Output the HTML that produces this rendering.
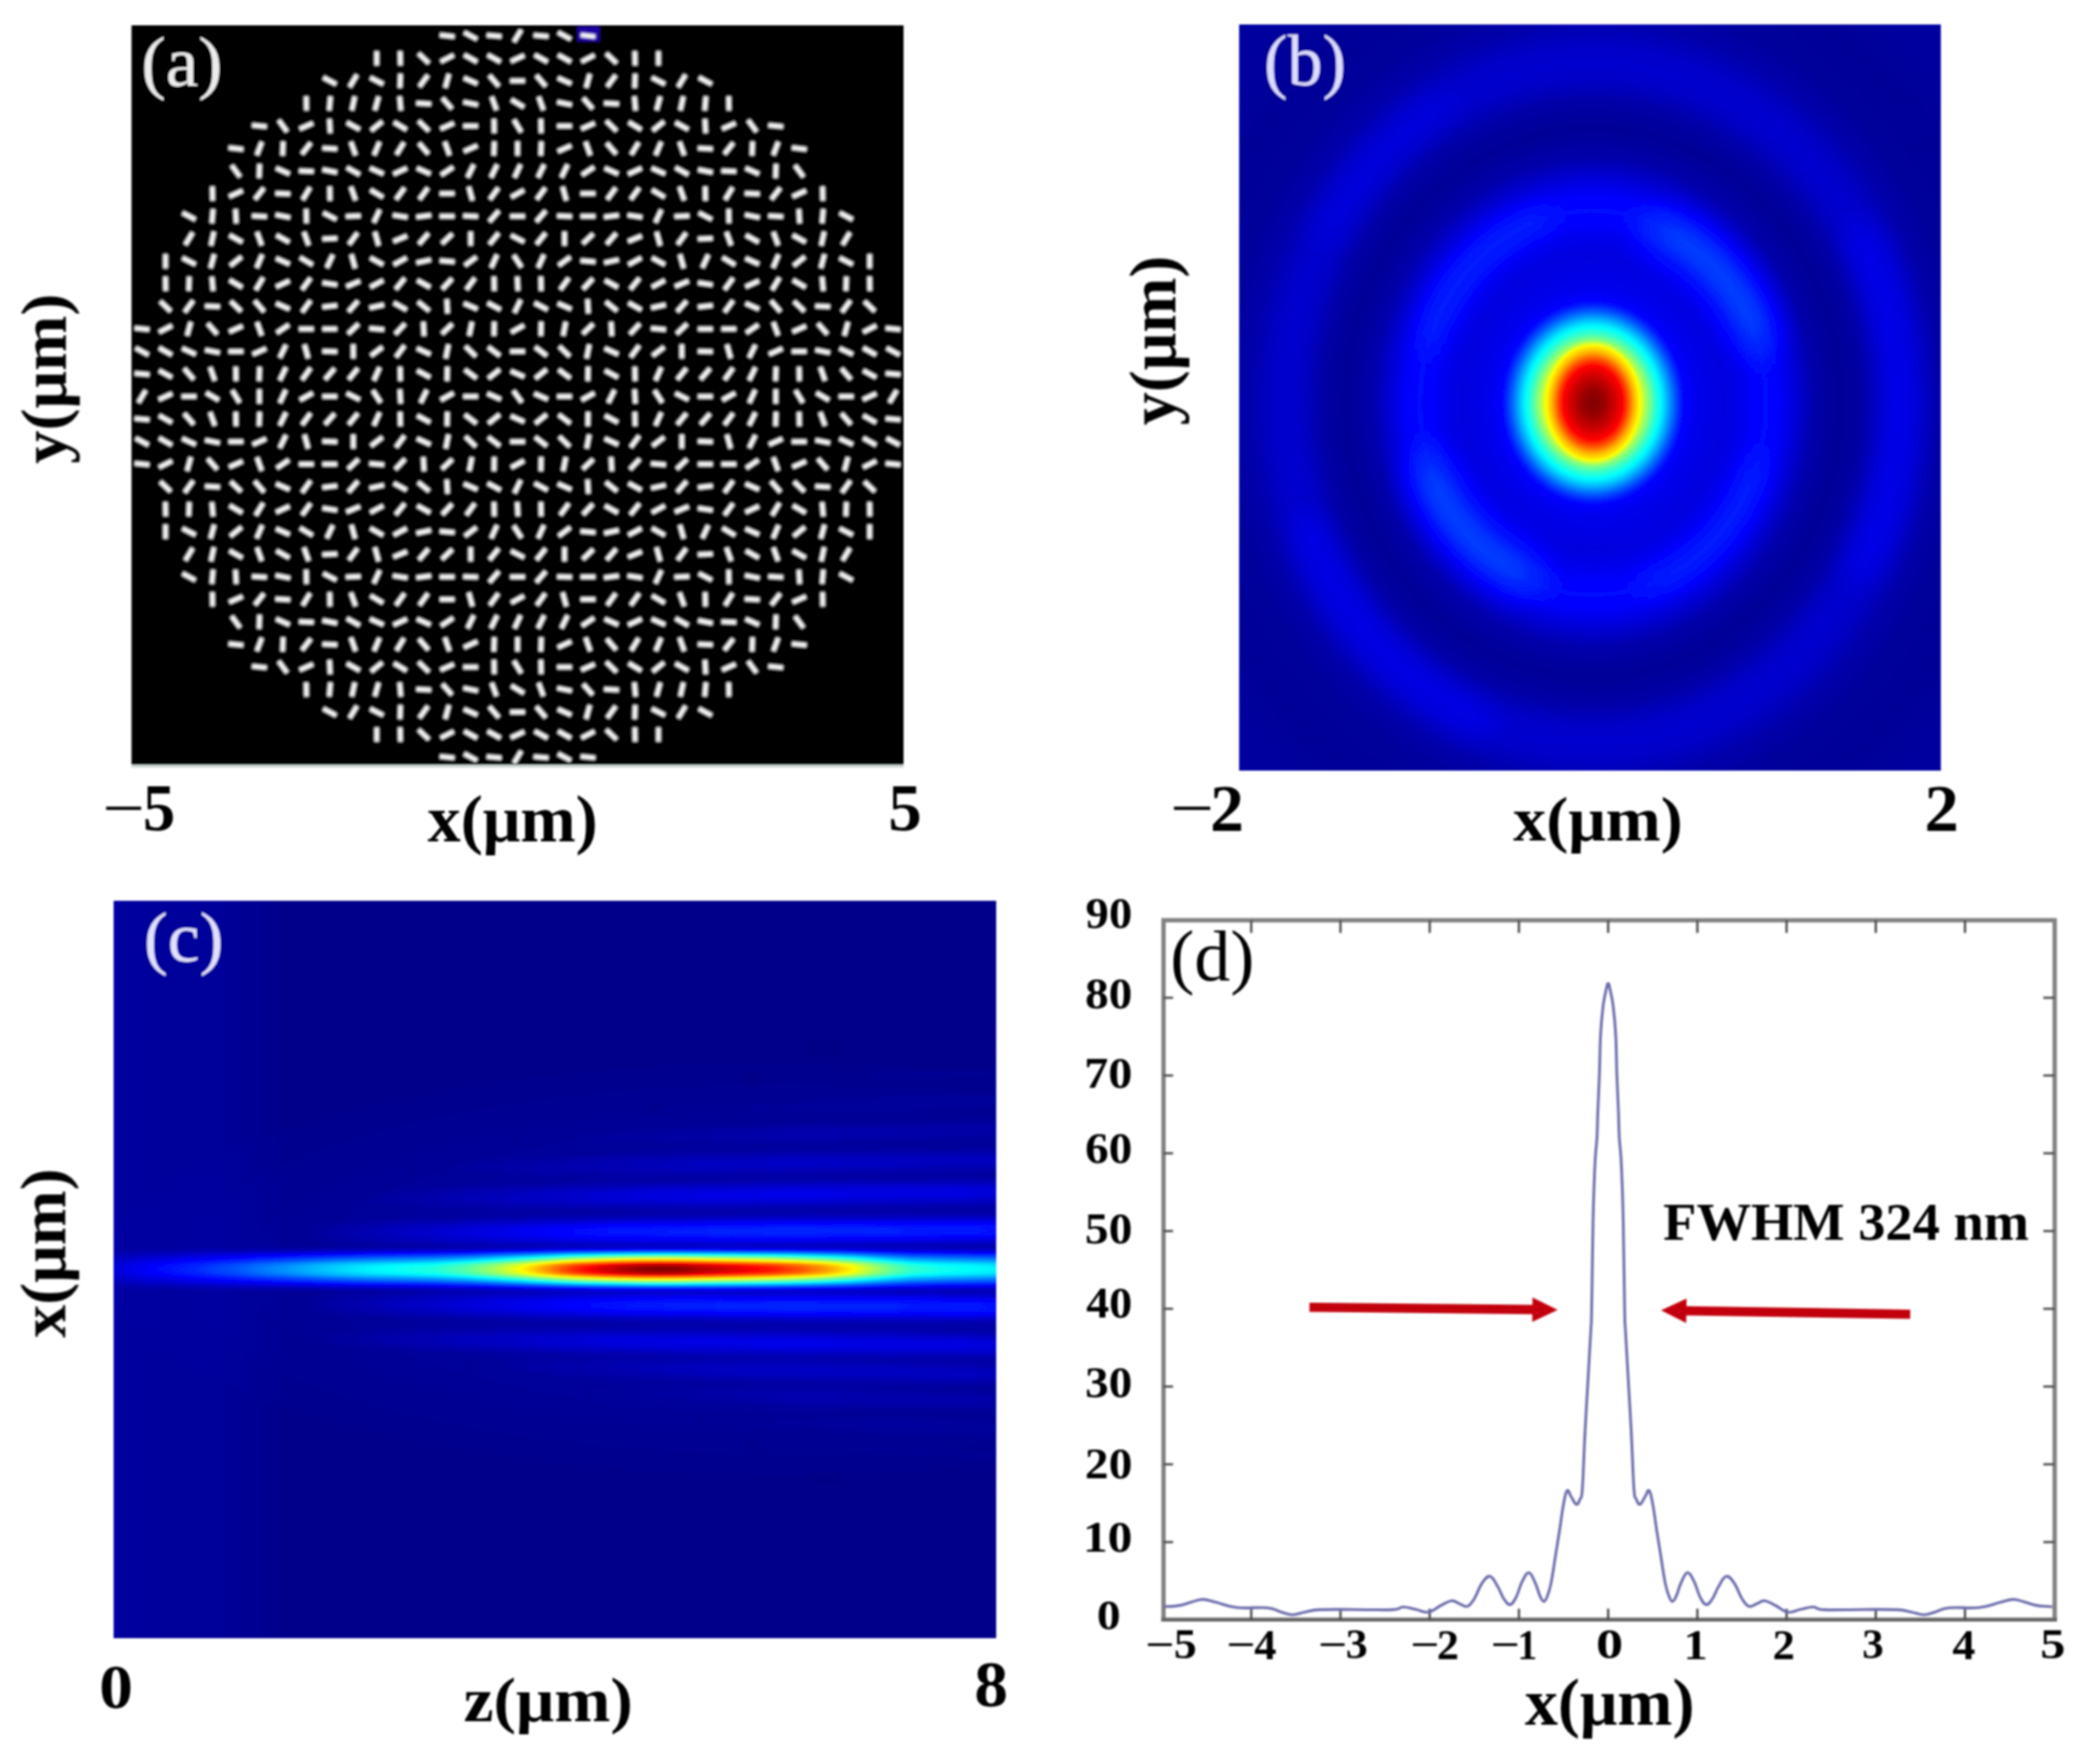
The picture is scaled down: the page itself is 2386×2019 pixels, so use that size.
<!DOCTYPE html>
<html lang="en"><head><meta charset="utf-8"><title>Figure</title>
<style>
html,body{margin:0;padding:0;background:#fff}
body{width:2386px;height:2019px;overflow:hidden}
svg{display:block}
text{font-family:"Liberation Serif","DejaVu Serif",serif}
</style></head><body>
<svg width="2386" height="2019" viewBox="0 0 2386 2019">
<rect width="2386" height="2019" fill="#fff"/>
<defs>
<clipPath id="ca"><rect x="150.5" y="29" width="883.5" height="846.0"/></clipPath>
<filter id="bla" x="0" y="0" width="100%" height="100%"><feGaussianBlur stdDeviation="1.1"/></filter>
<filter id="jet" x="0" y="0" width="100%" height="100%" color-interpolation-filters="sRGB"><feComponentTransfer><feFuncR type="table" tableValues="0 0 0 0 0.5 1 1 1 0.5"/><feFuncG type="table" tableValues="0 0 0.5 1 1 1 0.5 0 0"/><feFuncB type="table" tableValues="0.5 1 1 1 0.5 0 0 0 0"/></feComponentTransfer></filter>
<radialGradient id="gb" gradientUnits="userSpaceOnUse" cx="1823.0" cy="461.0" r="600" gradientTransform="translate(1823.0 461.0) scale(1 1.11) translate(-1823.0 -461.0)"><stop offset="0.0000" stop-color="#4c4c4c"/><stop offset="0.1333" stop-color="#4c4c4c"/><stop offset="0.1467" stop-color="#404040"/><stop offset="0.1600" stop-color="#2e2e2e"/><stop offset="0.1733" stop-color="#212121"/><stop offset="0.2000" stop-color="#1b1b1b"/><stop offset="0.2500" stop-color="#181818"/><stop offset="0.2833" stop-color="#1b1b1b"/><stop offset="0.3067" stop-color="#202020"/><stop offset="0.3300" stop-color="#222222"/><stop offset="0.3533" stop-color="#202020"/><stop offset="0.3800" stop-color="#181818"/><stop offset="0.4217" stop-color="#0b0b0b"/><stop offset="0.4717" stop-color="#060606"/><stop offset="0.5167" stop-color="#0a0a0a"/><stop offset="0.5550" stop-color="#121212"/><stop offset="0.5833" stop-color="#141414"/><stop offset="0.6133" stop-color="#121212"/><stop offset="0.6550" stop-color="#0b0b0b"/><stop offset="0.7083" stop-color="#070707"/><stop offset="0.7833" stop-color="#060606"/><stop offset="0.8667" stop-color="#080808"/><stop offset="1.0000" stop-color="#080808"/></radialGradient>
<radialGradient id="gb2" gradientUnits="userSpaceOnUse" cx="1823.0" cy="461.0" r="108" gradientTransform="translate(1823.0 461.0) scale(1 1.13) translate(-1823.0 -461.0)"><stop offset="0.0000" stop-color="#9e9e9e"/><stop offset="0.4630" stop-color="#9e9e9e"/><stop offset="0.5185" stop-color="#969696"/><stop offset="0.5556" stop-color="#8a8a8a"/><stop offset="0.5926" stop-color="#808080"/><stop offset="0.6481" stop-color="#6e6e6e"/><stop offset="0.7130" stop-color="#606060"/><stop offset="0.7778" stop-color="#4f4f4f"/><stop offset="0.8519" stop-color="#3d3d3d" stop-opacity="0.60"/><stop offset="0.9259" stop-color="#2e2e2e" stop-opacity="0.25"/><stop offset="1.0000" stop-color="#212121" stop-opacity="0.00"/></radialGradient>
<radialGradient id="gb3" gradientUnits="userSpaceOnUse" cx="1823.0" cy="461.0" r="58" gradientTransform="translate(1823.0 461.0) scale(1 1.24) translate(-1823.0 -461.0)"><stop offset="0.0000" stop-color="#ffffff"/><stop offset="0.2069" stop-color="#f9f9f9"/><stop offset="0.4138" stop-color="#ececec"/><stop offset="0.5862" stop-color="#dfdfdf"/><stop offset="0.6897" stop-color="#cccccc"/><stop offset="0.8103" stop-color="#b2b2b2"/><stop offset="0.8966" stop-color="#a4a4a4"/><stop offset="0.9483" stop-color="#9e9e9e" stop-opacity="0.50"/><stop offset="1.0000" stop-color="#999999" stop-opacity="0.00"/></radialGradient>
<clipPath id="cb"><rect x="1418.3" y="28.8" width="802.5" height="853.0"/></clipPath>
<filter id="blb" x="-50%" y="-50%" width="200%" height="200%"><feGaussianBlur stdDeviation="20"/></filter>
<clipPath id="cc"><rect x="130.8" y="1031" width="1008.4" height="843.3"/></clipPath>
<radialGradient id="cglow" gradientUnits="userSpaceOnUse" cx="0" cy="0" r="1" gradientTransform="translate(900 1452.7) scale(820 250)"><stop offset="0" stop-color="#fff" stop-opacity="0.045"/><stop offset="0.35" stop-color="#fff" stop-opacity="0.03"/><stop offset="0.7" stop-color="#fff" stop-opacity="0.012"/><stop offset="1" stop-color="#fff" stop-opacity="0"/></radialGradient>
<linearGradient id="cleft" gradientUnits="userSpaceOnUse" x1="131" y1="0" x2="330" y2="0"><stop offset="0.0000" stop-color="#fff" stop-opacity="0.030"/><stop offset="0.0452" stop-color="#fff" stop-opacity="0.020"/><stop offset="0.6482" stop-color="#fff" stop-opacity="0.014"/><stop offset="1.0000" stop-color="#fff" stop-opacity="0.000"/></linearGradient>
<filter id="vbl" x="-5%" y="-5%" width="110%" height="110%"><feGaussianBlur stdDeviation="3 5.5"/></filter>
<linearGradient id="lb0" gradientUnits="userSpaceOnUse" x1="330" y1="0" x2="1139" y2="0"><stop offset="0.0000" stop-color="#fff" stop-opacity="0.000"/><stop offset="0.2287" stop-color="#fff" stop-opacity="0.056"/><stop offset="0.4574" stop-color="#fff" stop-opacity="0.113"/><stop offset="0.7046" stop-color="#fff" stop-opacity="0.125"/><stop offset="1.0000" stop-color="#fff" stop-opacity="0.115"/></linearGradient>
<linearGradient id="lb1" gradientUnits="userSpaceOnUse" x1="380" y1="0" x2="1139" y2="0"><stop offset="0.0000" stop-color="#fff" stop-opacity="0.000"/><stop offset="0.2503" stop-color="#fff" stop-opacity="0.032"/><stop offset="0.5007" stop-color="#fff" stop-opacity="0.063"/><stop offset="0.6851" stop-color="#fff" stop-opacity="0.070"/><stop offset="1.0000" stop-color="#fff" stop-opacity="0.064"/></linearGradient>
<linearGradient id="lb2" gradientUnits="userSpaceOnUse" x1="450" y1="0" x2="1139" y2="0"><stop offset="0.0000" stop-color="#fff" stop-opacity="0.000"/><stop offset="0.2540" stop-color="#fff" stop-opacity="0.019"/><stop offset="0.5080" stop-color="#fff" stop-opacity="0.038"/><stop offset="0.6531" stop-color="#fff" stop-opacity="0.042"/><stop offset="1.0000" stop-color="#fff" stop-opacity="0.039"/></linearGradient>
<linearGradient id="lb3" gradientUnits="userSpaceOnUse" x1="560" y1="0" x2="1139" y2="0"><stop offset="0.0000" stop-color="#fff" stop-opacity="0.000"/><stop offset="0.2936" stop-color="#fff" stop-opacity="0.012"/><stop offset="0.5872" stop-color="#fff" stop-opacity="0.023"/><stop offset="0.5872" stop-color="#fff" stop-opacity="0.026"/><stop offset="1.0000" stop-color="#fff" stop-opacity="0.024"/></linearGradient>
<linearGradient id="lb4" gradientUnits="userSpaceOnUse" x1="700" y1="0" x2="1139" y2="0"><stop offset="0.0000" stop-color="#fff" stop-opacity="0.000"/><stop offset="0.3417" stop-color="#fff" stop-opacity="0.007"/><stop offset="0.6834" stop-color="#fff" stop-opacity="0.014"/><stop offset="0.4556" stop-color="#fff" stop-opacity="0.016"/><stop offset="1.0000" stop-color="#fff" stop-opacity="0.015"/></linearGradient>
<linearGradient id="lb5" gradientUnits="userSpaceOnUse" x1="800" y1="0" x2="1139" y2="0"><stop offset="0.0000" stop-color="#fff" stop-opacity="0.000"/><stop offset="0.3687" stop-color="#fff" stop-opacity="0.005"/><stop offset="0.7375" stop-color="#fff" stop-opacity="0.009"/><stop offset="0.2950" stop-color="#fff" stop-opacity="0.010"/><stop offset="1.0000" stop-color="#fff" stop-opacity="0.009"/></linearGradient>
<linearGradient id="lb6" gradientUnits="userSpaceOnUse" x1="850" y1="0" x2="1139" y2="0"><stop offset="0.0000" stop-color="#fff" stop-opacity="0.000"/><stop offset="0.3979" stop-color="#fff" stop-opacity="0.003"/><stop offset="0.7958" stop-color="#fff" stop-opacity="0.006"/><stop offset="0.1730" stop-color="#fff" stop-opacity="0.007"/><stop offset="1.0000" stop-color="#fff" stop-opacity="0.006"/></linearGradient>
<linearGradient id="lb7" gradientUnits="userSpaceOnUse" x1="330" y1="0" x2="1139" y2="0"><stop offset="0.0000" stop-color="#fff" stop-opacity="0.000"/><stop offset="0.2410" stop-color="#fff" stop-opacity="0.056"/><stop offset="0.4821" stop-color="#fff" stop-opacity="0.113"/><stop offset="0.7046" stop-color="#fff" stop-opacity="0.125"/><stop offset="1.0000" stop-color="#fff" stop-opacity="0.115"/></linearGradient>
<linearGradient id="lb8" gradientUnits="userSpaceOnUse" x1="330" y1="0" x2="1139" y2="0"><stop offset="0.0000" stop-color="#fff" stop-opacity="0.000"/><stop offset="0.2287" stop-color="#fff" stop-opacity="0.032"/><stop offset="0.4574" stop-color="#fff" stop-opacity="0.063"/><stop offset="0.7046" stop-color="#fff" stop-opacity="0.070"/><stop offset="1.0000" stop-color="#fff" stop-opacity="0.064"/></linearGradient>
<linearGradient id="lb9" gradientUnits="userSpaceOnUse" x1="520" y1="0" x2="1139" y2="0"><stop offset="0.0000" stop-color="#fff" stop-opacity="0.000"/><stop offset="0.2423" stop-color="#fff" stop-opacity="0.018"/><stop offset="0.4847" stop-color="#fff" stop-opacity="0.036"/><stop offset="0.6139" stop-color="#fff" stop-opacity="0.040"/><stop offset="1.0000" stop-color="#fff" stop-opacity="0.037"/></linearGradient>
<linearGradient id="lb10" gradientUnits="userSpaceOnUse" x1="650" y1="0" x2="1139" y2="0"><stop offset="0.0000" stop-color="#fff" stop-opacity="0.000"/><stop offset="0.2556" stop-color="#fff" stop-opacity="0.012"/><stop offset="0.5112" stop-color="#fff" stop-opacity="0.023"/><stop offset="0.5112" stop-color="#fff" stop-opacity="0.026"/><stop offset="1.0000" stop-color="#fff" stop-opacity="0.024"/></linearGradient>
<linearGradient id="lb11" gradientUnits="userSpaceOnUse" x1="760" y1="0" x2="1139" y2="0"><stop offset="0.0000" stop-color="#fff" stop-opacity="0.000"/><stop offset="0.3166" stop-color="#fff" stop-opacity="0.007"/><stop offset="0.6332" stop-color="#fff" stop-opacity="0.014"/><stop offset="0.3694" stop-color="#fff" stop-opacity="0.016"/><stop offset="1.0000" stop-color="#fff" stop-opacity="0.015"/></linearGradient>
<linearGradient id="lb12" gradientUnits="userSpaceOnUse" x1="800" y1="0" x2="1139" y2="0"><stop offset="0.0000" stop-color="#fff" stop-opacity="0.000"/><stop offset="0.3687" stop-color="#fff" stop-opacity="0.005"/><stop offset="0.7375" stop-color="#fff" stop-opacity="0.009"/><stop offset="0.2950" stop-color="#fff" stop-opacity="0.010"/><stop offset="1.0000" stop-color="#fff" stop-opacity="0.009"/></linearGradient>
<linearGradient id="lb13" gradientUnits="userSpaceOnUse" x1="850" y1="0" x2="1139" y2="0"><stop offset="0.0000" stop-color="#fff" stop-opacity="0.000"/><stop offset="0.3979" stop-color="#fff" stop-opacity="0.003"/><stop offset="0.7958" stop-color="#fff" stop-opacity="0.006"/><stop offset="0.1730" stop-color="#fff" stop-opacity="0.007"/><stop offset="1.0000" stop-color="#fff" stop-opacity="0.006"/></linearGradient>
<linearGradient id="cv0" gradientUnits="userSpaceOnUse" x1="131" y1="0" x2="1139" y2="0"><stop offset="0.0000" stop-color="#fff" stop-opacity="0.050"/><stop offset="0.0188" stop-color="#fff" stop-opacity="0.075"/><stop offset="0.0506" stop-color="#fff" stop-opacity="0.105"/><stop offset="0.0933" stop-color="#fff" stop-opacity="0.140"/><stop offset="0.1369" stop-color="#fff" stop-opacity="0.185"/><stop offset="0.1796" stop-color="#fff" stop-opacity="0.240"/><stop offset="0.2222" stop-color="#fff" stop-opacity="0.290"/><stop offset="0.2798" stop-color="#fff" stop-opacity="0.345"/><stop offset="0.3264" stop-color="#fff" stop-opacity="0.370"/><stop offset="0.3651" stop-color="#fff" stop-opacity="0.395"/><stop offset="0.3958" stop-color="#fff" stop-opacity="0.440"/><stop offset="0.4226" stop-color="#fff" stop-opacity="0.500"/><stop offset="0.4454" stop-color="#fff" stop-opacity="0.565"/><stop offset="0.4653" stop-color="#fff" stop-opacity="0.630"/><stop offset="0.4871" stop-color="#fff" stop-opacity="0.710"/><stop offset="0.5079" stop-color="#fff" stop-opacity="0.790"/><stop offset="0.5258" stop-color="#fff" stop-opacity="0.850"/><stop offset="0.5546" stop-color="#fff" stop-opacity="0.920"/><stop offset="0.5764" stop-color="#fff" stop-opacity="0.960"/><stop offset="0.5992" stop-color="#fff" stop-opacity="0.990"/><stop offset="0.6190" stop-color="#fff" stop-opacity="1.000"/><stop offset="0.6419" stop-color="#fff" stop-opacity="0.990"/><stop offset="0.6627" stop-color="#fff" stop-opacity="0.960"/><stop offset="0.7034" stop-color="#fff" stop-opacity="0.910"/><stop offset="0.7480" stop-color="#fff" stop-opacity="0.850"/><stop offset="0.7778" stop-color="#fff" stop-opacity="0.790"/><stop offset="0.8056" stop-color="#fff" stop-opacity="0.720"/><stop offset="0.8343" stop-color="#fff" stop-opacity="0.630"/><stop offset="0.8621" stop-color="#fff" stop-opacity="0.520"/><stop offset="0.8839" stop-color="#fff" stop-opacity="0.450"/><stop offset="0.9048" stop-color="#fff" stop-opacity="0.400"/><stop offset="0.9415" stop-color="#fff" stop-opacity="0.365"/><stop offset="1.0000" stop-color="#fff" stop-opacity="0.340"/></linearGradient>
<linearGradient id="cgy" gradientUnits="userSpaceOnUse" x1="0" y1="1424.7" x2="0" y2="1480.7"><stop offset="0.0000" stop-color="#fff" stop-opacity="0.000"/><stop offset="0.0536" stop-color="#fff" stop-opacity="0.030"/><stop offset="0.1071" stop-color="#fff" stop-opacity="0.100"/><stop offset="0.1607" stop-color="#fff" stop-opacity="0.235"/><stop offset="0.2054" stop-color="#fff" stop-opacity="0.365"/><stop offset="0.2411" stop-color="#fff" stop-opacity="0.470"/><stop offset="0.2857" stop-color="#fff" stop-opacity="0.600"/><stop offset="0.3214" stop-color="#fff" stop-opacity="0.700"/><stop offset="0.3571" stop-color="#fff" stop-opacity="0.800"/><stop offset="0.3839" stop-color="#fff" stop-opacity="0.880"/><stop offset="0.4107" stop-color="#fff" stop-opacity="0.940"/><stop offset="0.4464" stop-color="#fff" stop-opacity="0.980"/><stop offset="0.5000" stop-color="#fff" stop-opacity="1.000"/><stop offset="0.5536" stop-color="#fff" stop-opacity="0.980"/><stop offset="0.5893" stop-color="#fff" stop-opacity="0.940"/><stop offset="0.6161" stop-color="#fff" stop-opacity="0.880"/><stop offset="0.6429" stop-color="#fff" stop-opacity="0.800"/><stop offset="0.6786" stop-color="#fff" stop-opacity="0.700"/><stop offset="0.7143" stop-color="#fff" stop-opacity="0.600"/><stop offset="0.7589" stop-color="#fff" stop-opacity="0.470"/><stop offset="0.7946" stop-color="#fff" stop-opacity="0.365"/><stop offset="0.8393" stop-color="#fff" stop-opacity="0.235"/><stop offset="0.8929" stop-color="#fff" stop-opacity="0.100"/><stop offset="0.9464" stop-color="#fff" stop-opacity="0.030"/><stop offset="1.0000" stop-color="#fff" stop-opacity="0.000"/></linearGradient>
<mask id="cmask" maskUnits="userSpaceOnUse" x="120.80000000000001" y="1424.7" width="1028.4" height="56"><rect x="120.80000000000001" y="1424.7" width="1028.4" height="56" fill="url(#cgy)"/></mask>
<filter id="soft" filterUnits="userSpaceOnUse" x="0" y="0" width="2386" height="2019"><feGaussianBlur stdDeviation="0.9"/></filter>
</defs>
<g filter="url(#soft)">
<rect x="150.5" y="874" width="883.5" height="4.5" fill="#93a49e" opacity="0.5"/><rect x="150.5" y="29" width="883.5" height="846.0" fill="#000"/>
<g clip-path="url(#ca)"><rect x="660" y="30" width="27" height="18" fill="#2200c8" opacity="0.8" filter="url(#bla)"/><path filter="url(#bla)" d="M503.0 40.1l17.4 1.8M530.9 36.9l15.3 8.2M556.7 40.3l17.5 1.5M587.9 48.3l8.8 -14.6M610.4 40.3l17.5 1.5M638.3 36.9l15.3 8.2M664.2 40.1l17.4 1.8M431.1 75.2l0.0 -16.9M458.2 75.2l-0.3 -16.9M478.7 60.8l12.4 11.9M504.0 70.8l15.5 -7.9M531.0 62.6l15.2 8.4M557.8 62.6l15.2 8.4M584.3 70.4l15.9 -7.1M611.6 62.6l15.2 8.4M638.4 62.6l15.2 8.4M665.1 70.8l15.5 -7.9M693.5 60.8l12.4 11.9M726.8 75.2l-0.3 -16.9M753.5 75.2l0.0 -16.9M369.7 88.5l15.3 8.2M399.9 99.9l8.8 -14.6M423.4 88.6l15.5 7.9M457.7 101.0l0.6 -16.8M479.8 99.5l10.1 -13.8M509.4 100.7l4.5 -16.3M530.6 89.0l15.9 7.1M559.8 86.1l11.3 12.9M583.5 92.6l17.5 -0.0M613.5 86.1l11.3 12.9M638.1 89.0l15.9 7.1M670.6 100.7l4.5 -16.3M694.7 99.5l10.1 -13.8M726.3 101.0l0.6 -16.8M745.7 88.6l15.5 7.9M775.9 99.9l8.8 -14.6M799.5 88.5l15.3 8.2M350.7 126.8l-0.3 -16.9M376.7 126.8l1.5 -16.8M402.5 126.6l3.6 -16.5M428.9 126.5l4.5 -16.3M458.8 126.8l-1.5 -16.8M476.1 118.0l17.5 0.9M506.1 111.9l11.3 12.9M530.0 116.6l17.2 3.5M562.6 110.4l5.7 15.9M584.9 113.9l14.9 8.9M616.3 110.4l5.7 15.9M637.4 116.6l17.2 3.5M667.2 111.9l11.3 12.9M691.0 118.0l17.5 0.9M727.4 126.8l-1.5 -16.8M751.2 126.5l4.5 -16.3M778.5 126.6l3.6 -16.5M806.4 126.8l1.5 -16.8M834.2 126.8l-0.3 -16.9M288.1 143.3l17.4 1.8M318.7 137.3l10.1 13.8M342.6 147.8l15.9 -7.1M377.9 152.6l-0.9 -16.8M396.7 140.0l15.2 8.4M424.4 149.6l13.4 -10.8M450.6 139.7l14.9 8.9M478.7 138.2l12.4 11.9M503.8 147.8l15.9 -7.1M529.8 144.2l17.5 -0.0M565.6 152.6l-0.3 -16.9M587.9 136.9l8.8 14.6M619.3 152.6l-0.3 -16.9M637.2 144.2l17.5 -0.0M664.9 147.8l15.9 -7.1M693.5 138.2l12.4 11.9M719.2 139.7l14.9 8.9M746.7 149.6l13.4 -10.8M772.7 140.0l15.2 8.4M807.6 152.6l-0.9 -16.8M826.1 147.8l15.9 -7.1M855.9 137.3l10.1 13.8M879.0 143.3l17.4 1.8M261.3 169.1l17.4 1.8M293.8 177.9l6.0 -15.8M323.4 178.4l0.6 -16.8M345.3 176.7l10.6 -13.5M368.7 169.6l17.5 0.9M401.4 162.0l5.7 15.9M427.9 177.8l6.6 -15.6M453.6 177.3l8.8 -14.6M479.2 163.5l11.3 12.9M508.9 162.0l5.7 15.9M530.6 173.6l15.9 -7.1M565.1 178.4l0.6 -16.8M592.3 178.4l0.0 -16.9M618.9 178.4l0.6 -16.8M638.1 173.6l15.9 -7.1M670.0 162.0l5.7 15.9M694.1 163.5l11.3 12.9M722.2 177.3l8.8 -14.6M750.2 177.8l6.6 -15.6M777.5 162.0l5.7 15.9M798.4 169.6l17.5 0.9M828.8 176.7l10.6 -13.5M860.6 178.4l0.6 -16.8M884.8 177.9l6.0 -15.8M905.9 169.1l17.4 1.8M264.9 188.9l10.1 13.8M296.5 204.2l0.6 -16.8M315.7 192.2l15.9 7.1M341.8 195.4l17.5 0.9M368.8 194.0l17.2 3.5M396.7 191.6l15.2 8.4M423.2 192.2l15.9 7.1M450.0 199.4l15.9 -7.1M476.9 192.2l15.9 7.1M504.5 200.6l14.4 -9.7M534.9 203.4l7.4 -15.3M561.7 203.4l7.4 -15.3M588.7 203.5l7.1 -15.4M615.5 203.4l7.4 -15.3M642.3 203.4l7.4 -15.3M665.7 200.6l14.4 -9.7M691.8 192.2l15.9 7.1M718.6 199.4l15.9 -7.1M745.5 192.2l15.9 7.1M772.7 191.6l15.2 8.4M798.6 194.0l17.2 3.5M825.3 195.4l17.5 0.9M852.9 192.2l15.9 7.1M887.5 204.2l0.6 -16.8M909.6 188.9l10.1 13.8M243.3 230.0l-0.3 -16.9M262.0 225.2l15.9 -7.1M291.6 228.3l10.6 -13.5M314.9 221.2l17.5 0.9M346.2 228.9l8.8 -14.6M377.6 230.0l-0.3 -16.9M401.4 213.6l5.7 15.9M423.7 217.1l14.9 8.9M453.0 228.5l10.1 -13.8M479.8 228.5l10.1 -13.8M502.9 221.6l17.5 -0.0M536.3 213.5l4.5 16.3M560.4 228.5l10.1 -13.8M584.7 225.8l15.2 -8.4M614.1 228.5l10.1 -13.8M643.7 213.5l4.5 16.3M664.1 221.6l17.5 -0.0M694.7 228.5l10.1 -13.8M721.6 228.5l10.1 -13.8M746.0 217.1l14.9 8.9M777.5 213.6l5.7 15.9M807.3 230.0l-0.3 -16.9M829.7 228.9l8.8 -14.6M852.1 221.2l17.5 0.9M882.5 228.3l10.6 -13.5M906.7 225.2l15.9 -7.1M941.6 230.0l-0.3 -16.9M208.6 243.3l15.3 8.2M242.4 255.8l1.5 -16.8M270.4 255.8l-0.9 -16.8M288.1 247.0l17.5 0.9M315.1 245.6l17.2 3.5M350.7 255.8l-0.3 -16.9M369.7 243.4l15.5 7.9M395.5 247.8l17.5 -0.9M427.6 255.1l7.1 -15.4M449.3 246.1l17.3 2.6M476.2 248.4l17.4 -2.1M502.9 247.4l17.5 -0.0M529.8 247.1l17.5 0.6M559.8 253.9l11.3 -12.9M583.5 247.4l17.5 -0.0M613.5 253.9l11.3 -12.9M637.3 247.1l17.5 0.6M664.1 247.4l17.5 -0.0M691.0 248.4l17.4 -2.1M717.9 246.1l17.3 2.6M749.9 255.1l7.1 -15.4M771.6 247.8l17.5 -0.9M799.4 243.4l15.5 7.9M834.2 255.8l-0.3 -16.9M852.3 245.6l17.2 3.5M879.0 247.0l17.5 0.9M915.1 255.8l-0.9 -16.8M940.7 255.8l1.5 -16.8M960.7 243.3l15.3 8.2M211.9 280.5l8.8 -14.6M241.3 281.4l3.6 -16.5M262.4 269.0l15.2 8.4M294.0 265.2l5.7 15.9M316.1 269.0l15.2 8.4M347.7 265.2l5.7 15.9M368.7 273.6l17.5 -0.9M399.2 280.1l10.1 -13.8M428.9 265.1l4.5 16.3M449.9 276.5l16.1 -6.6M479.2 279.7l11.3 -12.9M505.5 279.2l12.4 -11.9M538.6 281.6l0.0 -16.9M560.0 279.8l10.8 -13.3M584.6 269.2l15.5 7.9M613.8 279.8l10.8 -13.3M646.0 281.6l0.0 -16.9M666.7 279.2l12.4 -11.9M694.1 279.7l11.3 -12.9M718.5 276.5l16.1 -6.6M751.2 265.1l4.5 16.3M775.3 280.1l10.1 -13.8M798.4 273.6l17.5 -0.9M831.2 265.2l5.7 15.9M853.3 269.0l15.2 8.4M884.9 265.2l5.7 15.9M907.0 269.0l15.2 8.4M939.7 281.4l3.6 -16.5M964.0 280.5l8.8 -14.6M189.4 307.4l0.0 -16.9M208.5 295.0l15.5 7.9M240.8 307.1l4.5 -16.3M263.3 304.4l13.4 -10.8M293.6 306.8l6.6 -15.6M315.7 295.4l15.9 7.1M343.1 294.5l14.9 8.9M373.9 306.7l7.1 -15.4M402.0 290.9l4.5 16.3M423.5 294.8l15.2 8.4M450.3 303.1l15.3 -8.2M476.3 300.9l17.1 -3.8M503.0 298.3l17.5 1.5M531.7 304.2l13.8 -10.4M562.0 306.8l6.9 -15.5M587.7 291.9l9.3 14.3M615.7 306.8l6.9 -15.5M639.1 304.2l13.8 -10.4M664.1 298.3l17.5 1.5M691.2 300.9l17.1 -3.8M718.9 303.1l15.3 -8.2M745.9 294.8l15.2 8.4M778.0 290.9l4.5 16.3M803.6 306.7l7.1 -15.4M826.6 294.5l14.9 8.9M852.9 295.4l15.9 7.1M884.5 306.8l6.6 -15.6M907.9 304.4l13.4 -10.8M939.2 307.1l4.5 -16.3M960.6 295.0l15.5 7.9M995.2 307.4l0.0 -16.9M189.6 333.2l-0.3 -16.9M216.0 333.2l0.6 -16.8M243.9 333.2l-1.5 -16.8M262.5 320.3l14.9 8.9M292.5 332.1l8.8 -14.6M315.7 328.4l15.9 -7.1M345.5 331.7l10.1 -13.8M368.8 323.5l17.3 2.6M396.2 328.1l16.1 -6.6M423.5 328.9l15.3 -8.2M452.6 331.4l10.8 -13.3M477.3 320.6l15.2 8.4M505.9 331.1l11.7 -12.5M533.5 331.7l10.1 -13.8M565.6 333.2l-0.3 -16.9M592.8 333.2l-0.9 -16.8M619.3 333.2l-0.3 -16.9M641.0 331.7l10.1 -13.8M667.0 331.1l11.7 -12.5M692.1 320.6l15.2 8.4M721.2 331.4l10.8 -13.3M745.8 328.9l15.3 -8.2M772.2 328.1l16.1 -6.6M798.5 323.5l17.3 2.6M829.0 331.7l10.1 -13.8M852.9 328.4l15.9 -7.1M883.4 332.1l8.8 -14.6M907.2 320.3l14.9 8.9M942.2 333.2l-1.5 -16.8M968.0 333.2l0.6 -16.8M995.4 333.2l-0.3 -16.9M183.2 344.6l12.4 11.9M211.2 357.5l10.1 -13.8M234.4 350.2l17.5 0.9M263.8 344.6l12.4 11.9M291.2 344.1l11.3 12.9M315.7 347.0l15.9 7.1M345.5 357.5l10.1 -13.8M368.7 351.6l17.4 -2.1M398.6 357.1l11.3 -12.9M422.6 352.5l17.1 -3.8M450.4 346.4l15.2 8.4M478.1 345.2l13.4 10.8M512.2 359.0l-0.9 -16.8M530.6 347.0l15.9 7.1M557.8 346.5l15.3 8.2M588.6 358.2l7.4 -15.3M611.5 346.5l15.3 8.2M638.1 347.0l15.9 7.1M673.3 359.0l-0.9 -16.8M693.0 345.2l13.4 10.8M719.0 346.4l15.2 8.4M744.9 352.5l17.1 -3.8M774.7 357.1l11.3 -12.9M798.5 351.6l17.4 -2.1M829.0 357.5l10.1 -13.8M852.9 347.0l15.9 7.1M882.1 344.1l11.3 12.9M908.4 344.6l12.4 11.9M932.7 350.2l17.5 0.9M963.3 357.5l10.1 -13.8M989.0 344.6l12.4 11.9M153.8 375.5l17.4 1.8M181.7 380.4l15.5 -7.9M214.0 384.5l4.5 -16.3M237.5 369.9l11.3 12.9M262.0 380.0l15.9 -7.1M294.0 368.4l5.7 15.9M316.5 381.2l14.4 -9.7M341.8 376.4l17.5 -0.0M368.6 376.4l17.5 -0.0M398.1 382.4l12.4 -11.9M422.4 375.7l17.5 1.5M452.1 382.7l11.7 -12.5M485.3 384.8l-0.9 -16.8M505.5 382.4l12.4 -11.9M536.9 384.7l3.3 -16.5M565.3 384.8l0.3 -16.9M584.7 380.6l15.2 -8.4M619.0 384.8l0.3 -16.9M644.3 384.7l3.3 -16.5M666.7 382.4l12.4 -11.9M700.2 384.8l-0.9 -16.8M720.7 382.7l11.7 -12.5M744.7 375.7l17.5 1.5M774.1 382.4l12.4 -11.9M798.4 376.4l17.5 -0.0M825.3 376.4l17.5 -0.0M853.7 381.2l14.4 -9.7M884.9 368.4l5.7 15.9M906.7 380.0l15.9 -7.1M935.8 369.9l11.3 12.9M966.1 384.5l4.5 -16.3M987.5 380.4l15.5 -7.9M1013.3 375.5l17.4 1.8M154.9 398.1l15.3 8.2M181.8 398.0l15.2 8.4M208.3 398.6l15.9 7.1M234.5 400.4l17.2 3.5M261.2 402.2l17.5 -0.0M288.9 405.8l15.9 -7.1M320.0 409.8l7.4 -15.3M348.3 394.1l4.5 16.3M368.7 401.9l17.5 0.6M404.3 410.6l0.0 -16.9M424.2 407.4l13.8 -10.4M453.0 409.1l10.1 -13.8M476.9 398.6l15.9 7.1M510.0 410.5l3.3 -16.5M532.4 396.2l12.4 11.9M558.5 397.0l13.8 10.4M583.5 402.2l17.5 -0.0M612.2 397.0l13.8 10.4M639.8 396.2l12.4 11.9M671.2 410.5l3.3 -16.5M691.8 398.6l15.9 7.1M721.6 409.1l10.1 -13.8M746.5 407.4l13.8 -10.4M780.3 410.6l0.0 -16.9M798.4 401.9l17.5 0.6M831.8 394.1l4.5 16.3M857.2 409.8l7.4 -15.3M879.8 405.8l15.9 -7.1M905.8 402.2l17.5 -0.0M932.9 400.4l17.2 3.5M960.4 398.6l15.9 7.1M987.6 398.0l15.2 8.4M1014.4 398.1l15.3 8.2M153.8 427.3l17.5 1.5M181.8 423.8l15.2 8.4M210.6 421.5l11.3 12.9M240.3 420.0l5.7 15.9M270.1 436.4l-0.3 -16.9M296.5 436.4l0.6 -16.8M320.0 435.6l7.4 -15.3M345.5 434.9l10.1 -13.8M371.8 434.5l11.3 -12.9M398.9 434.6l10.8 -13.3M427.7 435.8l6.9 -15.5M458.2 436.4l-0.3 -16.9M477.2 423.9l15.3 8.2M511.6 436.4l0.3 -16.9M531.7 422.8l13.8 10.4M558.7 433.4l13.4 -10.8M584.3 424.4l15.9 7.1M612.4 433.4l13.4 -10.8M639.1 422.8l13.8 10.4M672.7 436.4l0.3 -16.9M692.1 423.9l15.3 8.2M726.8 436.4l-0.3 -16.9M750.0 435.8l6.9 -15.5M774.9 434.6l10.8 -13.3M801.5 434.5l11.3 -12.9M829.0 434.9l10.1 -13.8M857.2 435.6l7.4 -15.3M887.5 436.4l0.6 -16.8M914.8 436.4l-0.3 -16.9M938.6 420.0l5.7 15.9M962.7 421.5l11.3 12.9M987.6 423.8l15.2 8.4M1013.3 427.3l17.5 1.5M158.2 461.1l8.8 -14.6M181.4 457.4l15.9 -7.1M207.5 453.8l17.5 -0.0M235.7 449.3l14.9 8.9M265.6 446.5l8.8 14.6M296.8 462.2l0.0 -16.9M320.1 461.5l7.1 -15.4M343.0 458.0l15.2 -8.4M368.6 453.8l17.5 -0.0M396.5 449.8l15.5 7.9M426.5 446.7l9.3 14.3M458.5 462.2l-0.9 -16.8M481.2 461.4l7.4 -15.3M504.1 458.0l15.2 -8.4M529.8 453.8l17.5 -0.0M557.5 450.2l15.9 7.1M587.3 446.9l10.1 13.8M611.2 450.2l15.9 7.1M637.2 453.8l17.5 -0.0M665.3 458.0l15.2 -8.4M696.0 461.4l7.4 -15.3M727.1 462.2l-0.9 -16.8M748.8 446.7l9.3 14.3M772.6 449.8l15.5 7.9M798.4 453.8l17.5 -0.0M826.4 458.0l15.2 -8.4M857.3 461.5l7.1 -15.4M887.8 462.2l0.0 -16.9M910.2 446.5l8.8 14.6M934.0 449.3l14.9 8.9M959.6 453.8l17.5 -0.0M987.2 457.4l15.9 -7.1M1017.7 461.1l8.8 -14.6M153.8 478.9l17.5 1.5M181.8 475.4l15.2 8.4M210.6 473.1l11.3 12.9M240.3 471.6l5.7 15.9M270.1 488.0l-0.3 -16.9M296.5 488.0l0.6 -16.8M320.0 487.2l7.4 -15.3M345.5 486.5l10.1 -13.8M371.8 486.1l11.3 -12.9M398.9 486.2l10.8 -13.3M427.7 487.4l6.9 -15.5M458.2 488.0l-0.3 -16.9M477.2 475.5l15.3 8.2M511.6 488.0l0.3 -16.9M531.7 474.4l13.8 10.4M558.7 485.0l13.4 -10.8M584.3 476.0l15.9 7.1M612.4 485.0l13.4 -10.8M639.1 474.4l13.8 10.4M672.7 488.0l0.3 -16.9M692.1 475.5l15.3 8.2M726.8 488.0l-0.3 -16.9M750.0 487.4l6.9 -15.5M774.9 486.2l10.8 -13.3M801.5 486.1l11.3 -12.9M829.0 486.5l10.1 -13.8M857.2 487.2l7.4 -15.3M887.5 488.0l0.6 -16.8M914.8 488.0l-0.3 -16.9M938.6 471.6l5.7 15.9M962.7 473.1l11.3 12.9M987.6 475.4l15.2 8.4M1013.3 478.9l17.5 1.5M154.9 501.3l15.3 8.2M181.8 501.2l15.2 8.4M208.3 501.8l15.9 7.1M234.5 503.6l17.2 3.5M261.2 505.4l17.5 -0.0M288.9 509.0l15.9 -7.1M320.0 513.0l7.4 -15.3M348.3 497.3l4.5 16.3M368.7 505.1l17.5 0.6M404.3 513.8l0.0 -16.9M424.2 510.6l13.8 -10.4M453.0 512.3l10.1 -13.8M476.9 501.8l15.9 7.1M510.0 513.7l3.3 -16.5M532.4 499.4l12.4 11.9M558.5 500.2l13.8 10.4M583.5 505.4l17.5 -0.0M612.2 500.2l13.8 10.4M639.8 499.4l12.4 11.9M671.2 513.7l3.3 -16.5M691.8 501.8l15.9 7.1M721.6 512.3l10.1 -13.8M746.5 510.6l13.8 -10.4M780.3 513.8l0.0 -16.9M798.4 505.1l17.5 0.6M831.8 497.3l4.5 16.3M857.2 513.0l7.4 -15.3M879.8 509.0l15.9 -7.1M905.8 505.4l17.5 -0.0M932.9 503.6l17.2 3.5M960.4 501.8l15.9 7.1M987.6 501.2l15.2 8.4M1014.4 501.3l15.3 8.2M153.8 530.3l17.4 1.8M181.7 535.2l15.5 -7.9M214.0 539.3l4.5 -16.3M237.5 524.7l11.3 12.9M262.0 534.8l15.9 -7.1M294.0 523.2l5.7 15.9M316.5 536.0l14.4 -9.7M341.8 531.2l17.5 -0.0M368.6 531.2l17.5 -0.0M398.1 537.2l12.4 -11.9M422.4 530.5l17.5 1.5M452.1 537.5l11.7 -12.5M485.3 539.6l-0.9 -16.8M505.5 537.2l12.4 -11.9M536.9 539.5l3.3 -16.5M565.3 539.6l0.3 -16.9M584.7 535.4l15.2 -8.4M619.0 539.6l0.3 -16.9M644.3 539.5l3.3 -16.5M666.7 537.2l12.4 -11.9M700.2 539.6l-0.9 -16.8M720.7 537.5l11.7 -12.5M744.7 530.5l17.5 1.5M774.1 537.2l12.4 -11.9M798.4 531.2l17.5 -0.0M825.3 531.2l17.5 -0.0M853.7 536.0l14.4 -9.7M884.9 523.2l5.7 15.9M906.7 534.8l15.9 -7.1M935.8 524.7l11.3 12.9M966.1 539.3l4.5 -16.3M987.5 535.2l15.5 -7.9M1013.3 530.3l17.4 1.8M183.2 551.0l12.4 11.9M211.2 563.9l10.1 -13.8M234.4 556.6l17.5 0.9M263.8 551.0l12.4 11.9M291.2 550.5l11.3 12.9M315.7 553.4l15.9 7.1M345.5 563.9l10.1 -13.8M368.7 558.0l17.4 -2.1M398.6 563.5l11.3 -12.9M422.6 558.9l17.1 -3.8M450.4 552.8l15.2 8.4M478.1 551.6l13.4 10.8M512.2 565.4l-0.9 -16.8M530.6 553.4l15.9 7.1M557.8 552.9l15.3 8.2M588.6 564.6l7.4 -15.3M611.5 552.9l15.3 8.2M638.1 553.4l15.9 7.1M673.3 565.4l-0.9 -16.8M693.0 551.6l13.4 10.8M719.0 552.8l15.2 8.4M744.9 558.9l17.1 -3.8M774.7 563.5l11.3 -12.9M798.5 558.0l17.4 -2.1M829.0 563.9l10.1 -13.8M852.9 553.4l15.9 7.1M882.1 550.5l11.3 12.9M908.4 551.0l12.4 11.9M932.7 556.6l17.5 0.9M963.3 563.9l10.1 -13.8M989.0 551.0l12.4 11.9M189.6 591.2l-0.3 -16.9M216.0 591.2l0.6 -16.8M243.9 591.2l-1.5 -16.8M262.5 578.3l14.9 8.9M292.5 590.1l8.8 -14.6M315.7 586.4l15.9 -7.1M345.5 589.7l10.1 -13.8M368.8 581.5l17.3 2.6M396.2 586.1l16.1 -6.6M423.5 586.9l15.3 -8.2M452.6 589.4l10.8 -13.3M477.3 578.6l15.2 8.4M505.9 589.1l11.7 -12.5M533.5 589.7l10.1 -13.8M565.6 591.2l-0.3 -16.9M592.8 591.2l-0.9 -16.8M619.3 591.2l-0.3 -16.9M641.0 589.7l10.1 -13.8M667.0 589.1l11.7 -12.5M692.1 578.6l15.2 8.4M721.2 589.4l10.8 -13.3M745.8 586.9l15.3 -8.2M772.2 586.1l16.1 -6.6M798.5 581.5l17.3 2.6M829.0 589.7l10.1 -13.8M852.9 586.4l15.9 -7.1M883.4 590.1l8.8 -14.6M907.2 578.3l14.9 8.9M942.2 591.2l-1.5 -16.8M968.0 591.2l0.6 -16.8M995.4 591.2l-0.3 -16.9M189.4 617.0l0.0 -16.9M208.5 604.6l15.5 7.9M240.8 616.7l4.5 -16.3M263.3 614.0l13.4 -10.8M293.6 616.4l6.6 -15.6M315.7 605.0l15.9 7.1M343.1 604.1l14.9 8.9M373.9 616.3l7.1 -15.4M402.0 600.5l4.5 16.3M423.5 604.4l15.2 8.4M450.3 612.7l15.3 -8.2M476.3 610.5l17.1 -3.8M503.0 607.9l17.5 1.5M531.7 613.8l13.8 -10.4M562.0 616.4l6.9 -15.5M587.7 601.5l9.3 14.3M615.7 616.4l6.9 -15.5M639.1 613.8l13.8 -10.4M664.1 607.9l17.5 1.5M691.2 610.5l17.1 -3.8M718.9 612.7l15.3 -8.2M745.9 604.4l15.2 8.4M778.0 600.5l4.5 16.3M803.6 616.3l7.1 -15.4M826.6 604.1l14.9 8.9M852.9 605.0l15.9 7.1M884.5 616.4l6.6 -15.6M907.9 614.0l13.4 -10.8M939.2 616.7l4.5 -16.3M960.6 604.6l15.5 7.9M995.2 617.0l0.0 -16.9M211.9 641.7l8.8 -14.6M241.3 642.6l3.6 -16.5M262.4 630.2l15.2 8.4M294.0 626.4l5.7 15.9M316.1 630.2l15.2 8.4M347.7 626.4l5.7 15.9M368.7 634.8l17.5 -0.9M399.2 641.3l10.1 -13.8M428.9 626.3l4.5 16.3M449.9 637.7l16.1 -6.6M479.2 640.9l11.3 -12.9M505.5 640.4l12.4 -11.9M538.6 642.8l0.0 -16.9M560.0 641.0l10.8 -13.3M584.6 630.4l15.5 7.9M613.8 641.0l10.8 -13.3M646.0 642.8l0.0 -16.9M666.7 640.4l12.4 -11.9M694.1 640.9l11.3 -12.9M718.5 637.7l16.1 -6.6M751.2 626.3l4.5 16.3M775.3 641.3l10.1 -13.8M798.4 634.8l17.5 -0.9M831.2 626.4l5.7 15.9M853.3 630.2l15.2 8.4M884.9 626.4l5.7 15.9M907.0 630.2l15.2 8.4M939.7 642.6l3.6 -16.5M964.0 641.7l8.8 -14.6M208.6 656.1l15.3 8.2M242.4 668.6l1.5 -16.8M270.4 668.6l-0.9 -16.8M288.1 659.8l17.5 0.9M315.1 658.4l17.2 3.5M350.7 668.6l-0.3 -16.9M369.7 656.2l15.5 7.9M395.5 660.6l17.5 -0.9M427.6 667.9l7.1 -15.4M449.3 658.9l17.3 2.6M476.2 661.2l17.4 -2.1M502.9 660.2l17.5 -0.0M529.8 659.9l17.5 0.6M559.8 666.7l11.3 -12.9M583.5 660.2l17.5 -0.0M613.5 666.7l11.3 -12.9M637.3 659.9l17.5 0.6M664.1 660.2l17.5 -0.0M691.0 661.2l17.4 -2.1M717.9 658.9l17.3 2.6M749.9 667.9l7.1 -15.4M771.6 660.6l17.5 -0.9M799.4 656.2l15.5 7.9M834.2 668.6l-0.3 -16.9M852.3 658.4l17.2 3.5M879.0 659.8l17.5 0.9M915.1 668.6l-0.9 -16.8M940.7 668.6l1.5 -16.8M960.7 656.1l15.3 8.2M243.3 694.4l-0.3 -16.9M262.0 689.6l15.9 -7.1M291.6 692.7l10.6 -13.5M314.9 685.6l17.5 0.9M346.2 693.3l8.8 -14.6M377.6 694.4l-0.3 -16.9M401.4 678.0l5.7 15.9M423.7 681.5l14.9 8.9M453.0 692.9l10.1 -13.8M479.8 692.9l10.1 -13.8M502.9 686.0l17.5 -0.0M536.3 677.9l4.5 16.3M560.4 692.9l10.1 -13.8M584.7 690.2l15.2 -8.4M614.1 692.9l10.1 -13.8M643.7 677.9l4.5 16.3M664.1 686.0l17.5 -0.0M694.7 692.9l10.1 -13.8M721.6 692.9l10.1 -13.8M746.0 681.5l14.9 8.9M777.5 678.0l5.7 15.9M807.3 694.4l-0.3 -16.9M829.7 693.3l8.8 -14.6M852.1 685.6l17.5 0.9M882.5 692.7l10.6 -13.5M906.7 689.6l15.9 -7.1M941.6 694.4l-0.3 -16.9M264.9 704.9l10.1 13.8M296.5 720.2l0.6 -16.8M315.7 708.2l15.9 7.1M341.8 711.4l17.5 0.9M368.8 710.0l17.2 3.5M396.7 707.6l15.2 8.4M423.2 708.2l15.9 7.1M450.0 715.4l15.9 -7.1M476.9 708.2l15.9 7.1M504.5 716.6l14.4 -9.7M534.9 719.4l7.4 -15.3M561.7 719.4l7.4 -15.3M588.7 719.5l7.1 -15.4M615.5 719.4l7.4 -15.3M642.3 719.4l7.4 -15.3M665.7 716.6l14.4 -9.7M691.8 708.2l15.9 7.1M718.6 715.4l15.9 -7.1M745.5 708.2l15.9 7.1M772.7 707.6l15.2 8.4M798.6 710.0l17.2 3.5M825.3 711.4l17.5 0.9M852.9 708.2l15.9 7.1M887.5 720.2l0.6 -16.8M909.6 704.9l10.1 13.8M261.3 736.7l17.4 1.8M293.8 745.5l6.0 -15.8M323.4 746.0l0.6 -16.8M345.3 744.3l10.6 -13.5M368.7 737.2l17.5 0.9M401.4 729.6l5.7 15.9M427.9 745.4l6.6 -15.6M453.6 744.9l8.8 -14.6M479.2 731.1l11.3 12.9M508.9 729.6l5.7 15.9M530.6 741.2l15.9 -7.1M565.1 746.0l0.6 -16.8M592.3 746.0l0.0 -16.9M618.9 746.0l0.6 -16.8M638.1 741.2l15.9 -7.1M670.0 729.6l5.7 15.9M694.1 731.1l11.3 12.9M722.2 744.9l8.8 -14.6M750.2 745.4l6.6 -15.6M777.5 729.6l5.7 15.9M798.4 737.2l17.5 0.9M828.8 744.3l10.6 -13.5M860.6 746.0l0.6 -16.8M884.8 745.5l6.0 -15.8M905.9 736.7l17.4 1.8M288.1 762.5l17.4 1.8M318.7 756.5l10.1 13.8M342.6 767.0l15.9 -7.1M377.9 771.8l-0.9 -16.8M396.7 759.2l15.2 8.4M424.4 768.8l13.4 -10.8M450.6 758.9l14.9 8.9M478.7 757.4l12.4 11.9M503.8 767.0l15.9 -7.1M529.8 763.4l17.5 -0.0M565.6 771.8l-0.3 -16.9M587.9 756.1l8.8 14.6M619.3 771.8l-0.3 -16.9M637.2 763.4l17.5 -0.0M664.9 767.0l15.9 -7.1M693.5 757.4l12.4 11.9M719.2 758.9l14.9 8.9M746.7 768.8l13.4 -10.8M772.7 759.2l15.2 8.4M807.6 771.8l-0.9 -16.8M826.1 767.0l15.9 -7.1M855.9 756.5l10.1 13.8M879.0 762.5l17.4 1.8M350.7 797.6l-0.3 -16.9M376.7 797.6l1.5 -16.8M402.5 797.4l3.6 -16.5M428.9 797.3l4.5 -16.3M458.8 797.6l-1.5 -16.8M476.1 788.8l17.5 0.9M506.1 782.7l11.3 12.9M530.0 787.4l17.2 3.5M562.6 781.2l5.7 15.9M584.9 784.7l14.9 8.9M616.3 781.2l5.7 15.9M637.4 787.4l17.2 3.5M667.2 782.7l11.3 12.9M691.0 788.8l17.5 0.9M727.4 797.6l-1.5 -16.8M751.2 797.3l4.5 -16.3M778.5 797.4l3.6 -16.5M806.4 797.6l1.5 -16.8M834.2 797.6l-0.3 -16.9M369.7 810.9l15.3 8.2M399.9 822.3l8.8 -14.6M423.4 811.0l15.5 7.9M457.7 823.4l0.6 -16.8M479.8 821.9l10.1 -13.8M509.4 823.1l4.5 -16.3M530.6 811.4l15.9 7.1M559.8 808.5l11.3 12.9M583.5 815.0l17.5 -0.0M613.5 808.5l11.3 12.9M638.1 811.4l15.9 7.1M670.6 823.1l4.5 -16.3M694.7 821.9l10.1 -13.8M726.3 823.4l0.6 -16.8M745.7 811.0l15.5 7.9M775.9 822.3l8.8 -14.6M799.5 810.9l15.3 8.2M431.1 849.2l0.0 -16.9M458.2 849.2l-0.3 -16.9M478.7 834.8l12.4 11.9M504.0 844.8l15.5 -7.9M531.0 836.6l15.2 8.4M557.8 836.6l15.2 8.4M584.3 844.4l15.9 -7.1M611.6 836.6l15.2 8.4M638.4 836.6l15.2 8.4M665.1 844.8l15.5 -7.9M693.5 834.8l12.4 11.9M726.8 849.2l-0.3 -16.9M753.5 849.2l0.0 -16.9M503.0 865.7l17.4 1.8M530.9 862.5l15.3 8.2M556.7 865.9l17.5 1.5M587.9 873.9l8.8 -14.6M610.4 865.9l17.5 1.5M638.3 862.5l15.3 8.2M664.2 865.7l17.4 1.8" fill="none" stroke="#f4f4f4" stroke-width="6.0" stroke-linecap="butt"/></g>
<g clip-path="url(#cb)"><g filter="url(#jet)"><rect x="1398.3" y="8.8" width="842.5" height="893.0" fill="url(#gb)"/><g filter="url(#blb)" fill="none" stroke="#fff" stroke-linecap="round"><path d="M1906.0 271.0 L1915.0 275.3 L1923.8 280.1 L1932.3 285.4 L1940.6 291.0 L1948.6 297.1 L1956.3 303.5 L1963.7 310.4 L1970.7 317.6 L1977.4 325.1 L1983.8 332.9 L1989.7 341.1 L1995.2 349.5 L2000.4 358.3 L2005.1 367.2 L2009.4 376.4" stroke-width="60" opacity="0.068"/><path d="M1740.0 651.0 L1731.0 646.7 L1722.2 641.9 L1713.7 636.6 L1705.4 631.0 L1697.4 624.9 L1689.7 618.5 L1682.3 611.6 L1675.3 604.4 L1668.6 596.9 L1662.2 589.1 L1656.3 580.9 L1650.8 572.5 L1645.6 563.7 L1640.9 554.8 L1636.6 545.6" stroke-width="60" opacity="0.068"/><path d="M1636.0 386.4 L1640.5 374.2 L1645.6 362.3 L1651.4 350.7 L1657.8 339.5 L1664.8 328.8 L1672.4 318.6 L1680.5 308.8 L1689.2 299.7 L1698.3 291.1 L1707.9 283.2 L1717.9 275.9 L1728.4 269.2 L1739.1 263.3 L1750.2 258.1 L1761.5 253.7" stroke-width="36" opacity="0.04"/><path d="M2010.0 535.6 L2005.7 547.3 L2000.8 558.8 L1995.3 570.0 L1989.3 580.8 L1982.6 591.2 L1975.4 601.1 L1967.7 610.6 L1959.6 619.6 L1950.9 628.0 L1941.8 635.9 L1932.4 643.1 L1922.5 649.8 L1912.3 655.8 L1901.8 661.2 L1891.1 665.9" stroke-width="36" opacity="0.035"/><path d="M2133.8 275.6 L2143.9 298.7 L2152.6 322.5 L2160.0 346.8 L2165.9 371.7 L2170.3 396.9 L2173.3 422.5 L2174.8 448.1 L2174.8 473.9 L2173.3 499.5 L2170.3 525.1 L2165.9 550.3 L2160.0 575.2 L2152.6 599.5 L2143.9 623.3 L2133.8 646.4" stroke-width="50" opacity="0.035"/><path d="M1691.1 827.2 L1673.9 818.8 L1657.0 809.3 L1640.7 798.9 L1624.8 787.4 L1609.5 775.1 L1594.9 761.8 L1580.8 747.7 L1567.5 732.7 L1554.9 717.0 L1543.1 700.5 L1532.1 683.4 L1521.9 665.6 L1512.6 647.3 L1504.2 628.4 L1496.6 609.0" stroke-width="50" opacity="0.03"/><path d="M1518.2 263.5 L1524.5 251.7 L1531.2 240.1 L1538.2 228.8 L1545.6 217.8 L1553.4 207.1 L1561.4 196.7 L1569.8 186.6 L1578.5 176.9 L1587.5 167.5 L1596.7 158.4 L1606.3 149.7 L1616.1 141.4 L1626.2 133.5 L1636.5 126.0 L1647.0 118.9" stroke-width="50" opacity="0.02"/></g><ellipse cx="1823.0" cy="461.0" rx="108" ry="122.0" fill="url(#gb2)"/><ellipse cx="1823.0" cy="461.0" rx="58" ry="71.9" fill="url(#gb3)"/></g></g>
<g clip-path="url(#cc)"><g filter="url(#jet)"><rect x="110.80000000000001" y="1011" width="1048.4" height="883.3" fill="#030303"/><rect x="130.8" y="1031" width="1008.4" height="843.3" fill="url(#cglow)"/><rect x="125.80000000000001" y="1031" width="205" height="843.3" fill="url(#cleft)"/><g filter="url(#vbl)"><rect x="330" y="1398.7" width="830" height="22" fill="url(#lb0)" transform="rotate(-0.229 700 1409.7)"/><rect x="380" y="1358.7" width="780" height="20" fill="url(#lb1)" transform="rotate(-0.573 700 1368.7)"/><rect x="450" y="1324.7" width="710" height="18" fill="url(#lb2)" transform="rotate(-0.802 700 1333.7)"/><rect x="560" y="1293.7" width="600" height="16" fill="url(#lb3)" transform="rotate(-1.146 700 1301.7)"/><rect x="700" y="1263.7" width="460" height="16" fill="url(#lb4)" transform="rotate(-1.489 700 1271.7)"/><rect x="800" y="1232.7" width="360" height="16" fill="url(#lb5)" transform="rotate(-1.718 700 1240.7)"/><rect x="850" y="1199.7" width="310" height="16" fill="url(#lb6)" transform="rotate(-1.947 700 1207.7)"/><rect x="330" y="1483.2" width="830" height="22" fill="url(#lb7)" transform="rotate(0.229 700 1494.2)"/><rect x="330" y="1525.7" width="830" height="20" fill="url(#lb8)" transform="rotate(0.573 700 1535.7)"/><rect x="520" y="1556.7" width="640" height="18" fill="url(#lb9)" transform="rotate(0.917 700 1565.7)"/><rect x="650" y="1586.7" width="510" height="16" fill="url(#lb10)" transform="rotate(1.260 700 1594.7)"/><rect x="760" y="1614.7" width="400" height="16" fill="url(#lb11)" transform="rotate(1.604 700 1622.7)"/><rect x="800" y="1642.7" width="360" height="16" fill="url(#lb12)" transform="rotate(1.947 700 1650.7)"/><rect x="850" y="1672.7" width="310" height="16" fill="url(#lb13)" transform="rotate(2.291 700 1680.7)"/></g><rect x="120.80000000000001" y="1424.7" width="1028.4" height="56" fill="url(#cv0)" mask="url(#cmask)"/></g></g>
<g fill="none" stroke-linecap="butt"><path d="M1331.5 1855.8 V1053.2 H2351.3 V1855.8" stroke="#828282" stroke-width="5" stroke-linejoin="miter"/><path d="M1328.8 1853.8 H2354.0" stroke="#666" stroke-width="4.4"/><path d="M1431.9 1853.8 v-12.5 M1431.9 1053.2 v14.5 M1534.0 1853.8 v-12.5 M1534.0 1053.2 v14.5 M1636.1 1853.8 v-12.5 M1636.1 1053.2 v14.5 M1738.2 1853.8 v-12.5 M1738.2 1053.2 v14.5 M1840.3 1853.8 v-12.5 M1840.3 1053.2 v14.5 M1942.4 1853.8 v-12.5 M1942.4 1053.2 v14.5 M2044.5 1853.8 v-12.5 M2044.5 1053.2 v14.5 M2146.6 1853.8 v-12.5 M2146.6 1053.2 v14.5 M2248.7 1853.8 v-12.5 M2248.7 1053.2 v14.5 M1331.5 1765.0 h11 M2351.3 1765.0 h-13 M1331.5 1676.0 h11 M2351.3 1676.0 h-13 M1331.5 1587.0 h11 M2351.3 1587.0 h-13 M1331.5 1498.0 h11 M2351.3 1498.0 h-13 M1331.5 1409.0 h11 M2351.3 1409.0 h-13 M1331.5 1320.0 h11 M2351.3 1320.0 h-13 M1331.5 1231.0 h11 M2351.3 1231.0 h-13 M1331.5 1142.0 h11 M2351.3 1142.0 h-13" stroke="#4a4a4a" stroke-width="2.6"/></g>
<path d="M1332.0 1839.0C1335.5 1838.7 1343.1 1838.7 1349.5 1837.6C1355.9 1836.5 1358.5 1834.9 1364.0 1833.5C1369.5 1832.1 1371.4 1830.5 1377.0 1830.6C1382.6 1830.7 1384.2 1832.1 1392.0 1834.0C1399.8 1835.9 1404.4 1838.8 1416.0 1840.0C1427.6 1841.2 1440.0 1839.2 1450.0 1840.2C1460.0 1841.2 1460.2 1843.4 1466.0 1845.0C1471.8 1846.6 1473.4 1848.2 1479.0 1848.2C1484.6 1848.2 1487.7 1846.2 1494.0 1845.0C1500.3 1843.8 1499.4 1843.0 1510.6 1842.4C1521.8 1841.8 1533.3 1842.2 1550.0 1842.2C1566.7 1842.2 1582.9 1843.0 1594.0 1842.4C1605.1 1841.8 1600.4 1839.3 1605.6 1839.2C1610.8 1839.1 1614.1 1840.8 1620.0 1842.0C1625.9 1843.2 1629.4 1846.0 1635.0 1845.2C1640.6 1844.4 1642.8 1840.6 1648.0 1838.0C1653.2 1835.4 1656.6 1832.7 1661.0 1832.2C1665.4 1831.7 1666.4 1834.2 1670.0 1835.5C1673.6 1836.8 1675.6 1839.7 1679.0 1838.6C1682.4 1837.5 1683.6 1835.3 1687.0 1830.0C1690.4 1824.7 1692.4 1817.2 1696.0 1812.0C1699.6 1806.8 1701.6 1803.4 1705.2 1804.2C1708.8 1805.0 1710.8 1810.8 1714.0 1816.0C1717.2 1821.2 1718.2 1825.9 1721.0 1830.0C1723.8 1834.1 1725.3 1837.0 1728.1 1836.6C1730.9 1836.2 1732.2 1833.3 1735.0 1828.0C1737.8 1822.7 1739.1 1815.6 1742.0 1810.0C1744.9 1804.4 1746.7 1799.6 1749.7 1800.0C1752.7 1800.4 1754.5 1806.8 1757.0 1812.0C1759.5 1817.2 1760.1 1821.8 1762.0 1826.0C1763.9 1830.2 1764.9 1833.0 1766.7 1833.0C1768.5 1833.0 1769.3 1830.2 1771.0 1826.0C1772.7 1821.8 1773.2 1820.8 1775.0 1811.8C1776.8 1802.8 1778.1 1793.0 1780.0 1781.0C1781.9 1769.0 1782.9 1763.4 1784.7 1751.8C1786.5 1740.2 1787.3 1732.1 1789.0 1723.0C1790.7 1713.9 1791.4 1708.2 1793.2 1706.2C1795.0 1704.2 1795.9 1709.9 1798.0 1713.0C1800.1 1716.1 1801.8 1721.2 1803.8 1721.8C1805.8 1722.4 1806.6 1719.6 1808.0 1716.0C1809.4 1712.4 1809.7 1718.2 1810.8 1703.8C1811.9 1689.4 1812.4 1667.9 1813.6 1643.9C1814.8 1619.9 1815.6 1608.0 1817.0 1584.0C1818.4 1560.0 1819.5 1540.8 1820.4 1524.0C1821.3 1507.2 1820.9 1524.8 1821.4 1500.0C1821.9 1475.2 1822.4 1430.7 1823.0 1400.0C1823.6 1369.3 1824.0 1362.4 1824.6 1346.6C1825.2 1330.8 1825.3 1330.2 1825.9 1321.0C1826.5 1311.8 1827.1 1310.9 1827.6 1300.7C1828.1 1290.5 1828.0 1284.6 1828.6 1270.0C1829.2 1255.4 1829.8 1244.5 1830.4 1227.5C1831.0 1210.5 1830.8 1200.3 1831.6 1185.0C1832.4 1169.7 1833.3 1161.6 1834.6 1151.0C1835.9 1140.4 1837.1 1137.1 1838.2 1132.0C1839.3 1126.9 1839.5 1125.5 1840.3 1125.5C1841.1 1125.5 1841.3 1126.9 1842.4 1132.0C1843.5 1137.1 1844.7 1140.4 1846.0 1151.0C1847.3 1161.6 1848.2 1169.7 1849.0 1185.0C1849.8 1200.3 1849.6 1210.5 1850.2 1227.5C1850.8 1244.5 1851.4 1255.4 1852.0 1270.0C1852.6 1284.6 1852.5 1290.5 1853.0 1300.7C1853.5 1310.9 1854.1 1311.8 1854.7 1321.0C1855.3 1330.2 1855.4 1330.8 1856.0 1346.6C1856.6 1362.4 1857.0 1369.3 1857.6 1400.0C1858.2 1430.7 1858.7 1475.2 1859.2 1500.0C1859.7 1524.8 1859.3 1507.2 1860.2 1524.0C1861.1 1540.8 1862.2 1560.0 1863.6 1584.0C1865.0 1608.0 1865.8 1619.9 1867.0 1643.9C1868.2 1667.9 1868.7 1689.4 1869.8 1703.8C1870.9 1718.2 1871.2 1712.4 1872.6 1716.0C1874.0 1719.6 1874.8 1722.4 1876.8 1721.8C1878.8 1721.2 1880.5 1716.1 1882.6 1713.0C1884.7 1709.9 1885.6 1704.2 1887.4 1706.2C1889.2 1708.2 1889.9 1713.9 1891.6 1723.0C1893.3 1732.1 1894.1 1740.2 1895.9 1751.8C1897.7 1763.4 1898.7 1769.0 1900.6 1781.0C1902.5 1793.0 1903.8 1802.8 1905.6 1811.8C1907.4 1820.8 1907.9 1821.8 1909.6 1826.0C1911.3 1830.2 1912.1 1833.0 1913.9 1833.0C1915.7 1833.0 1916.7 1830.2 1918.6 1826.0C1920.5 1821.8 1921.1 1817.2 1923.6 1812.0C1926.1 1806.8 1927.9 1800.4 1930.9 1800.0C1933.9 1799.6 1935.7 1804.4 1938.6 1810.0C1941.5 1815.6 1942.8 1822.7 1945.6 1828.0C1948.4 1833.3 1949.7 1836.2 1952.5 1836.6C1955.3 1837.0 1956.8 1834.1 1959.6 1830.0C1962.4 1825.9 1963.4 1821.2 1966.6 1816.0C1969.8 1810.8 1971.8 1805.0 1975.4 1804.2C1979.0 1803.4 1981.0 1806.8 1984.6 1812.0C1988.2 1817.2 1990.2 1824.7 1993.6 1830.0C1997.0 1835.3 1998.2 1837.5 2001.6 1838.6C2005.0 1839.7 2007.0 1836.8 2010.6 1835.5C2014.2 1834.2 2015.2 1831.7 2019.6 1832.2C2024.0 1832.7 2027.4 1835.4 2032.6 1838.0C2037.8 1840.6 2040.0 1844.4 2045.6 1845.2C2051.2 1846.0 2054.7 1843.2 2060.6 1842.0C2066.5 1840.8 2069.8 1839.1 2075.0 1839.2C2080.2 1839.3 2075.5 1841.8 2086.6 1842.4C2097.7 1843.0 2113.9 1842.2 2130.6 1842.2C2147.3 1842.2 2158.8 1841.8 2170.0 1842.4C2181.2 1843.0 2180.3 1843.8 2186.6 1845.0C2192.9 1846.2 2196.0 1848.2 2201.6 1848.2C2207.2 1848.2 2208.8 1846.6 2214.6 1845.0C2220.4 1843.4 2220.6 1841.2 2230.6 1840.2C2240.6 1839.2 2253.0 1841.2 2264.6 1840.0C2276.2 1838.8 2280.8 1835.9 2288.6 1834.0C2296.4 1832.1 2298.0 1830.7 2303.6 1830.6C2309.2 1830.5 2311.1 1832.1 2316.6 1833.5C2322.1 1834.9 2324.7 1836.5 2331.1 1837.6C2337.5 1838.7 2345.1 1838.7 2348.6 1839.0" fill="none" stroke="#6b6bab" stroke-width="3.1" stroke-linejoin="round"/>
<g transform="translate(1498.5 1496.2) rotate(0.605)" fill="#c2000f"><rect x="0" y="-5.3" width="257.1" height="10.6"/><path d="M255.1 -14 L284.1 0 L255.1 14z"/></g>
<g transform="translate(2186 1504.2) rotate(-179.116)" fill="#c2000f"><rect x="0" y="-5.3" width="258.2" height="10.6"/><path d="M256.2 -14 L285.2 0 L256.2 14z"/></g>
<text transform="matrix(0.8382 0 0 0.8055 161.73 97.68)" font-size="100" fill="#ececec">(a)</text>
<text transform="matrix(0.8056 0 0 0.8209 1446.38 97.35)" font-size="100" fill="#dcdcff">(b)</text>
<text transform="matrix(0.8186 0 0 0.8143 164.82 1099.89)" font-size="100" fill="#e0e0ff">(c)</text>
<text transform="matrix(0.8241 0 0 0.8308 1339.29 1122.44)" font-size="100" fill="#000">(d)</text>
<text transform="matrix(0.8581 0 0 0.7800 117.21 951.09)" font-size="100" fill="#000">−</text><text transform="matrix(0.7412 0 0 0.7564 163.44 949.84)" font-size="100" font-weight="bold" fill="#000">5</text>
<text transform="matrix(0.7671 0 0 0.7669 1016.43 950.23)" font-size="100" font-weight="bold" fill="#000">5</text>
<text transform="matrix(0.7591 0 0 0.7582 489.32 962.70)" font-size="100" font-weight="bold" fill="#000">x(μm)</text>
<text transform="matrix(0 -0.7594 0.7505 0 75.16 530.76)" font-size="100" font-weight="bold" fill="#000">y(μm)</text>
<text transform="matrix(0.8925 0 0 0.7800 1338.94 951.09)" font-size="100" fill="#000">−</text><text transform="matrix(0.7762 0 0 0.7667 1384.80 950.60)" font-size="100" font-weight="bold" fill="#000">2</text>
<text transform="matrix(0.7881 0 0 0.7530 2202.25 950.70)" font-size="100" font-weight="bold" fill="#000">2</text>
<text transform="matrix(0.7567 0 0 0.7110 1731.62 962.41)" font-size="100" font-weight="bold" fill="#000">x(μm)</text>
<text transform="matrix(0 -0.7571 0.7505 0 1344.86 486.76)" font-size="100" font-weight="bold" fill="#000">y(μm)</text>
<text transform="matrix(0.7738 0 0 0.7289 113.40 1955.27)" font-size="100" font-weight="bold" fill="#000">0</text>
<text transform="matrix(0.7698 0 0 0.7496 1114.91 1952.85)" font-size="100" font-weight="bold" fill="#000">8</text>
<text transform="matrix(0.7726 0 0 0.7143 530.45 1969.64)" font-size="100" font-weight="bold" fill="#000">z(μm)</text>
<text transform="matrix(0 -0.7560 0.7418 0 74.35 1531.18)" font-size="100" font-weight="bold" fill="#000">x(μm)</text>
<text transform="matrix(0.7567 0 0 0.7593 1744.92 1974.47)" font-size="100" font-weight="bold" fill="#000">x(μm)</text>
<text transform="matrix(0.6229 0 0 0.6178 1903.37 1419.27)" font-size="100" font-weight="bold" fill="#000">FWHM 324 nm</text>
<text transform="matrix(0.5337 0 0 0.4993 1242.37 1061.90)" font-size="100" font-weight="bold" fill="#000">90</text>
<text transform="matrix(0.5395 0 0 0.5170 1241.81 1154.08)" font-size="100" font-weight="bold" fill="#000">80</text>
<text transform="matrix(0.5514 0 0 0.4993 1240.67 1245.20)" font-size="100" font-weight="bold" fill="#000">70</text>
<text transform="matrix(0.5395 0 0 0.5067 1241.81 1331.19)" font-size="100" font-weight="bold" fill="#000">60</text>
<text transform="matrix(0.5424 0 0 0.5111 1241.53 1423.49)" font-size="100" font-weight="bold" fill="#000">50</text>
<text transform="matrix(0.5280 0 0 0.4978 1242.91 1508.10)" font-size="100" font-weight="bold" fill="#000">40</text>
<text transform="matrix(0.5395 0 0 0.4978 1241.81 1599.10)" font-size="100" font-weight="bold" fill="#000">30</text>
<text transform="matrix(0.5424 0 0 0.5037 1241.53 1691.50)" font-size="100" font-weight="bold" fill="#000">20</text>
<text transform="matrix(0.5670 0 0 0.4993 1239.16 1776.20)" font-size="100" font-weight="bold" fill="#000">10</text>
<text transform="matrix(0.5429 0 0 0.4770 1255.23 1864.52)" font-size="100" font-weight="bold" fill="#000">0</text>
<text transform="matrix(0.6190 0 0 0.4844 1826.52 1898.22)" font-size="100" font-weight="bold" fill="#000">0</text>
<text transform="matrix(0.5541 0 0 0.4955 1926.57 1898.70)" font-size="100" font-weight="bold" fill="#000">1</text>
<text transform="matrix(0.5095 0 0 0.4955 2028.56 1898.70)" font-size="100" font-weight="bold" fill="#000">2</text>
<text transform="matrix(0.4930 0 0 0.4881 2131.07 1898.21)" font-size="100" font-weight="bold" fill="#000">3</text>
<text transform="matrix(0.5247 0 0 0.4955 2234.21 1898.70)" font-size="100" font-weight="bold" fill="#000">4</text>
<text transform="matrix(0.5765 0 0 0.4917 2334.69 1898.21)" font-size="100" font-weight="bold" fill="#000">5</text>
<text transform="matrix(0.5871 0 0 0.6200 1310.76 1902.91)" font-size="100" fill="#000">−</text><text transform="matrix(0.5247 0 0 0.4917 1343.20 1898.21)" font-size="100" font-weight="bold" fill="#000">5</text>
<text transform="matrix(0.5871 0 0 0.6200 1403.56 1902.91)" font-size="100" fill="#000">−</text><text transform="matrix(0.5097 0 0 0.4955 1435.24 1898.70)" font-size="100" font-weight="bold" fill="#000">4</text>
<text transform="matrix(0.5871 0 0 0.6200 1508.56 1902.91)" font-size="100" fill="#000">−</text><text transform="matrix(0.5023 0 0 0.4881 1539.94 1898.21)" font-size="100" font-weight="bold" fill="#000">3</text>
<text transform="matrix(0.5871 0 0 0.6200 1614.06 1902.91)" font-size="100" fill="#000">−</text><text transform="matrix(0.5071 0 0 0.4955 1644.17 1898.70)" font-size="100" font-weight="bold" fill="#000">2</text>
<text transform="matrix(0.5871 0 0 0.6200 1706.06 1902.91)" font-size="100" fill="#000">−</text><text transform="matrix(0.4514 0 0 0.4955 1736.39 1898.70)" font-size="100" font-weight="bold" fill="#000">1</text>
</g>
</svg>
</body></html>
